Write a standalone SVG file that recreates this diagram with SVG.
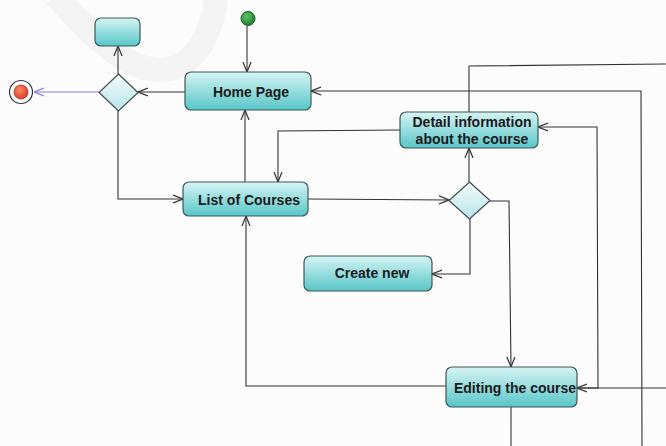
<svg xmlns="http://www.w3.org/2000/svg" width="666" height="446" viewBox="0 0 666 446">
<defs>
<linearGradient id="gAct" x1="0" y1="0" x2="0" y2="1">
<stop offset="0" stop-color="#d6f4f4"/>
<stop offset="1" stop-color="#58c6c8"/>
</linearGradient>
<linearGradient id="gDec" x1="0" y1="0" x2="0" y2="1">
<stop offset="0" stop-color="#f2fbfb"/>
<stop offset="1" stop-color="#b8e6ea"/>
</linearGradient>
<radialGradient id="gStart" cx="0.4" cy="0.35" r="0.7">
<stop offset="0" stop-color="#5cc46a"/>
<stop offset="1" stop-color="#1f7a32"/>
</radialGradient>
<radialGradient id="gEnd" cx="0.4" cy="0.35" r="0.7">
<stop offset="0" stop-color="#ff8a6a"/>
<stop offset="1" stop-color="#d83a20"/>
</radialGradient>
<marker id="arr" viewBox="0 0 10 10" refX="10" refY="5" markerWidth="10" markerHeight="10" markerUnits="userSpaceOnUse" orient="auto">
<path d="M0,1 L10,5 L0,9" fill="none" stroke="#333" stroke-width="1.2"/>
</marker>
<marker id="arrP" viewBox="0 0 10 10" refX="10" refY="5" markerWidth="10" markerHeight="10" markerUnits="userSpaceOnUse" orient="auto">
<path d="M0,1 L10,5 L0,9" fill="none" stroke="#8a80d8" stroke-width="1.2"/>
</marker>
</defs>
<style>
.act{fill:url(#gAct);stroke:#3d5656;stroke-width:1.2}
.dec{fill:url(#gDec);stroke:#3d4a4a;stroke-width:1.2}
.lbl{font-family:"Liberation Sans",Arial,sans-serif;font-weight:bold;font-size:14px;fill:#1a1a1a;text-anchor:middle}
.c{fill:none;stroke:#333;stroke-width:1.1}
</style>
<rect width="666" height="446" fill="#fcfcfc"/>
<path d="M55,-5 C100,45 130,70 160,70 C195,70 214,30 216,-5" fill="none" stroke="#f3f3f3" stroke-width="24"/>

<g id="connectors">
<path class="c" d="M247,26 L247,72" marker-end="url(#arr)"/>
<path class="c" d="M185,92 L138,92" marker-end="url(#arr)"/>
<path class="c" d="M118,74 L118,46" marker-end="url(#arr)"/>
<path fill="none" stroke="#8a80d8" stroke-width="1.1" d="M99,92 L34,92" marker-end="url(#arrP)"/>
<path class="c" d="M118,111 L118,199 L183,199" marker-end="url(#arr)"/>
<path class="c" d="M245,182 L245,110" marker-end="url(#arr)"/>
<path class="c" d="M400,130 L278,131 L278,182" marker-end="url(#arr)"/>
<path class="c" d="M308,199 L449,200" marker-end="url(#arr)"/>
<path class="c" d="M469,182 L469,148" marker-end="url(#arr)"/>
<path class="c" d="M470,219 L470,274 L432,274" marker-end="url(#arr)"/>
<path class="c" d="M490,201 L509,201 L511,367" marker-end="url(#arr)"/>
<path class="c" d="M446,386 L246,386 L246,216" marker-end="url(#arr)"/>
<path class="c" d="M577,388 L598,388 L597,127 L538,127" marker-end="url(#arr)"/>
<path class="c" d="M666,388 L577,388" marker-end="url(#arr)"/>
<path class="c" d="M469,112 L469,66 L666,64"/>
<path class="c" d="M642,446 L641,91 L311,91" marker-end="url(#arr)"/>
<path class="c" d="M511,407 L511,446"/>
</g>

<g id="start"><circle cx="248" cy="18.5" r="7" fill="url(#gStart)" stroke="#1d5a28" stroke-width="1"/></g>
<g id="end"><circle cx="21" cy="92" r="11.5" fill="#fff" stroke="#333" stroke-width="1.2"/><circle cx="21" cy="92" r="7" fill="url(#gEnd)" stroke="#a03020" stroke-width="0.8"/></g>
<g id="blank"><rect class="act" x="95" y="18" width="45" height="28" rx="6"/></g>
<g id="decision1"><path class="dec" d="M118.5,74 L138,92.5 L118.5,111 L99,92.5 Z"/></g>
<g id="decision2"><path class="dec" d="M469.5,182 L490,200.5 L469.5,219 L449,200.5 Z"/></g>
<g id="home"><rect class="act" x="185" y="72" width="126" height="38" rx="6"/><text class="lbl" x="251" y="97">Home Page</text></g>
<g id="list"><rect class="act" x="183" y="182" width="125" height="34" rx="6"/><text class="lbl" x="249" y="205">List of Courses</text></g>
<g id="detail"><rect class="act" x="400" y="112" width="138" height="36" rx="6"/><text class="lbl" x="472" y="127">Detail information</text><text class="lbl" x="472" y="144">about the course</text></g>
<g id="create"><rect class="act" x="304" y="256" width="128" height="35" rx="6"/><text class="lbl" x="372" y="278">Create new</text></g>
<g id="editing"><rect class="act" x="446" y="367" width="131" height="40" rx="6"/><text class="lbl" x="515" y="393">Editing the course</text></g>
</svg>
